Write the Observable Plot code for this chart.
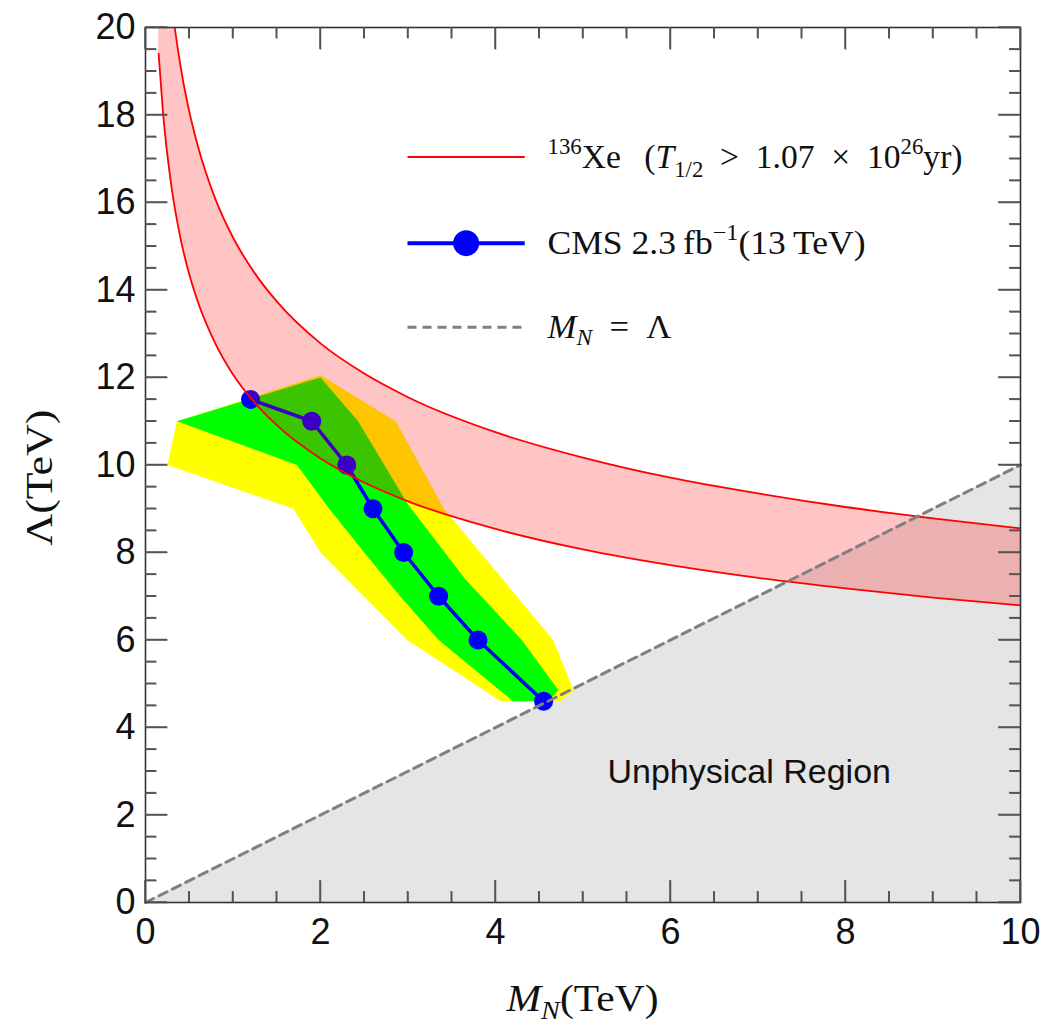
<!DOCTYPE html>
<html><head><meta charset="utf-8">
<script src="https://cdn.jsdelivr.net/npm/d3@7"></script>
<script src="https://cdn.jsdelivr.net/npm/@observablehq/plot@0.6"></script>
<style>body{margin:0;background:#fff}</style>
</head><body><div id="chart"></div>
<script>
// ---- data ----
// 136Xe band (T1/2 > 1.07e26 yr): lower and upper edge, Lambda (TeV) vs M_N (TeV)
const bandM     = [0.15, 0.2, 0.3, 0.4, 0.5, 0.6, 0.8, 1.0, 1.25, 1.5, 2, 2.5, 3, 4, 5, 6, 7, 8, 9, 10];
const bandLower = [19.40, 18.06, 16.32, 15.18, 14.36, 13.72, 12.77, 12.07, 11.42, 10.91, 10.15, 9.60, 9.17, 8.54, 8.07, 7.71, 7.42, 7.18, 6.97, 6.79];
const bandUpper = [24.43, 22.73, 20.55, 19.12, 18.08, 17.28, 16.07, 15.20, 14.38, 13.74, 12.78, 12.09, 11.55, 10.75, 10.17, 9.71, 9.35, 9.04, 8.78, 8.55];
// CMS 2.3 fb-1 (13 TeV) observed points
const cmsM      = [1.2, 1.9, 2.3, 2.6, 2.95, 3.35, 3.8, 4.55];
const cmsLambda = [11.5, 11.0, 10.0, 9.0, 8.0, 7.0, 6.0, 4.6];
// 1 sigma (green) band outline
const greenM      = [0.36, 2.0, 2.43, 3.0, 3.65, 4.3, 4.72, 4.6, 4.2, 3.35, 2.91, 2.5, 2.1, 1.73];
const greenLambda = [11.0, 12.0, 11.0, 9.1, 7.4, 6.0, 4.85, 4.6, 4.6, 6.0, 7.0, 8.0, 9.0, 10.0];
// 2 sigma (yellow) band outline
const yellowM      = [0.36, 2.0, 2.86, 3.41, 4.66, 4.89, 4.75, 4.06, 2.99, 2.0, 1.69, 0.25];
const yellowLambda = [11.0, 12.05, 11.0, 9.0, 6.0, 4.85, 4.6, 4.6, 6.0, 8.0, 9.0, 10.0];
// M_N = Lambda line / unphysical region
const diagM      = [0, 10];
const diagLambda = [0, 10];
// ticks
const xTickLabels = [0, 2, 4, 6, 8, 10];
const yTickLabels = [0, 2, 4, 6, 8, 10, 12, 14, 16, 18, 20];
const xMinor = d3.range(0, 10.001, 0.5).filter(v => !xTickLabels.includes(v));
const yMinor = d3.range(0, 20.001, 0.5).filter(v => !yTickLabels.includes(v));

// ---- layout ----
const W = 1045, H = 1025;
const mL = 145, mR = 25, mT = 27, mB = 123;
const xDom = [0, 10], yDom = [0, 20];
const pxX = (xDom[1] - xDom[0]) / (W - mL - mR);
const pxY = (yDom[1] - yDom[0]) / (H - mT - mB);
const MAJ = 22, MIN = 11;
const SANS = "'Liberation Sans', Arial, Helvetica, sans-serif";
const SERIF = "'Liberation Serif', 'DejaVu Serif', 'Times New Roman', serif";
const TICK = "#555";

const band = bandM.map((m, i) => ({m, lo: bandLower[i], hi: bandUpper[i]}));
const cms = cmsM.map((m, i) => ({m, l: cmsLambda[i]}));
const green = greenM.map((m, i) => ({m, l: greenLambda[i]}));
const yellow = yellowM.map((m, i) => ({m, l: yellowLambda[i]}));
const diag = diagM.map((m, i) => ({m, l: diagLambda[i]}));

// inward tick segments on all four sides
const tickSegs = [];
for (const v of xTickLabels) {
  tickSegs.push({x1: v, x2: v, y1: yDom[0], y2: yDom[0] + MAJ * pxY});
  tickSegs.push({x1: v, x2: v, y1: yDom[1], y2: yDom[1] - MAJ * pxY});
}
for (const v of xMinor) {
  tickSegs.push({x1: v, x2: v, y1: yDom[0], y2: yDom[0] + MIN * pxY});
  tickSegs.push({x1: v, x2: v, y1: yDom[1], y2: yDom[1] - MIN * pxY});
}
for (const v of yTickLabels) {
  tickSegs.push({y1: v, y2: v, x1: xDom[0], x2: xDom[0] + MAJ * pxX});
  tickSegs.push({y1: v, y2: v, x1: xDom[1], x2: xDom[1] - MAJ * pxX});
}
for (const v of yMinor) {
  tickSegs.push({y1: v, y2: v, x1: xDom[0], x2: xDom[0] + MIN * pxX});
  tickSegs.push({y1: v, y2: v, x1: xDom[1], x2: xDom[1] - MIN * pxX});
}

const plot = Plot.plot({
  width: W, height: H,
  marginLeft: mL, marginRight: mR, marginTop: mT, marginBottom: mB,
  x: {domain: xDom},
  y: {domain: yDom},
  style: {fontFamily: SANS, background: "white", color: "#111", overflow: "visible"},
  marks: [
    Plot.areaY(diag, {x: "m", y1: 0, y2: "l", fill: "#e5e5e5"}),
    Plot.line(yellow, {x: "m", y: "l", fill: "#ffff00", stroke: "none"}),
    Plot.line(green, {x: "m", y: "l", fill: "#00ff00", stroke: "none"}),
    Plot.line(cms, {x: "m", y: "l", stroke: "#0000ff", strokeWidth: 3.5}),
    Plot.dot(cms, {x: "m", y: "l", r: 9.5, fill: "#0000ff", stroke: "none"}),
    Plot.areaY(band, {x: "m", y1: "lo", y2: "hi", fill: "#ff0000", fillOpacity: 0.23, curve: "monotone-x", clip: true}),
    Plot.line(band, {x: "m", y: "lo", stroke: "#ff0000", strokeWidth: 1.8, curve: "monotone-x", clip: true}),
    Plot.line(band, {x: "m", y: "hi", stroke: "#ff0000", strokeWidth: 1.8, curve: "monotone-x", clip: true}),
    Plot.line(diag, {x: "m", y: "l", stroke: "#808080", strokeWidth: 3, strokeDasharray: "9,6"}),
    Plot.link(tickSegs, {x1: "x1", x2: "x2", y1: "y1", y2: "y2", stroke: TICK, strokeWidth: 1.5}),
    Plot.frame({stroke: "#333", strokeWidth: 1.6}),
    Plot.axisX(xTickLabels, {tickSize: 0, tickPadding: 16, fontSize: 36, label: null, fill: "#111"}),
    Plot.axisY(yTickLabels, {tickSize: 0, tickPadding: 10, fontSize: 36, label: null, fill: "#111"}),
    Plot.text(["Unphysical Region"], {x: 6.9, y: 2.97, text: d => d, fontSize: 34, fill: "#111", fontFamily: SANS})
  ]
});
document.getElementById("chart").appendChild(plot);

const sx = plot.scale("x"), sy = plot.scale("y");

// tick segments again as plain lines positioned through the plot's scales (robust rendering)
const tickLayer = d3.select(plot).append("g").attr("aria-label", "ticks")
  .attr("stroke", TICK).attr("stroke-width", 1.5).attr("fill", "none");
for (const t of tickSegs) {
  tickLayer.append("line")
    .attr("x1", sx.apply(t.x1)).attr("x2", sx.apply(t.x2))
    .attr("y1", sy.apply(t.y1)).attr("y2", sy.apply(t.y2));
}

// ---- legend + math-style titles ----
const layer = d3.select(plot).append("g").attr("aria-label", "legend");

function rich(x, y, size, parts, opts = {}) {
  const t = layer.append("text").attr("x", x).attr("y", y)
    .attr("font-family", SERIF).attr("font-size", size).attr("fill", "#111")
    .attr("text-anchor", opts.anchor || "start");
  if (opts.rotate) t.attr("transform", `rotate(-90 ${x} ${y})`);
  if (opts.len) t.attr("textLength", opts.len).attr("lengthAdjust", "spacingAndGlyphs");
  let shift = 0;
  for (const p of parts) {
    const s = t.append("tspan").text(p.t);
    let target = 0, fs = size;
    if (p.sup) { target = -0.42 * size; fs = 0.68 * size; }
    if (p.sub) { target = (p.subShift || 0.2) * size; fs = 0.68 * size; }
    s.attr("font-size", fs).attr("dy", target - shift);
    if (p.it) s.attr("font-style", "italic");
    shift = target;
  }
  return t;
}

const lx0 = sx.apply(3.0), lx1 = sx.apply(4.34), tx = sx.apply(4.6);
const rows = [17.03, 15.06, 13.14].map(v => sy.apply(v));
const LS = 33;
// row 1: Xe
layer.append("line").attr("x1", lx0).attr("x2", lx1).attr("y1", rows[0]).attr("y2", rows[0])
  .attr("stroke", "#ff0000").attr("stroke-width", 2);
rich(tx, rows[0] + 11, LS, [
  {t: "136", sup: true}, {t: "Xe\u2002\u2009("}, {t: "T", it: true}, {t: "1/2", sub: true, subShift: 0.26},
  {t: "\u2002>\u20021.07\u2002×\u200210"}, {t: "26", sup: true}, {t: "yr)"}
], {len: 415});
// row 2: CMS
layer.append("line").attr("x1", lx0).attr("x2", lx1).attr("y1", rows[1]).attr("y2", rows[1])
  .attr("stroke", "#0000ff").attr("stroke-width", 4);
layer.append("circle").attr("cx", (lx0 + lx1) / 2).attr("cy", rows[1]).attr("r", 13).attr("fill", "#0000ff");
rich(tx, rows[1] + 11, LS, [
  {t: "CMS 2.3\u2009fb"}, {t: "\u22121", sup: true}, {t: "(13\u2009TeV)"}
], {len: 318});
// row 3: M_N = Lambda
layer.append("line").attr("x1", lx0).attr("x2", lx1).attr("y1", rows[2]).attr("y2", rows[2])
  .attr("stroke", "#808080").attr("stroke-width", 3).attr("stroke-dasharray", "9,6");
rich(tx, rows[2] + 11, LS, [
  {t: "M", it: true}, {t: "N", sub: true, it: true}, {t: "\u2002=\u2002Λ"}
], {len: 124});

// axis titles
rich(sx.apply(5.0), H - 14, 38, [{t: "M", it: true}, {t: "N", sub: true, it: true}, {t: "(TeV)"}], {anchor: "middle", len: 152});
rich(52, sy.apply(9.7), 38, [{t: "Λ(TeV)"}], {anchor: "middle", rotate: true, len: 136});
</script>
</body></html>
